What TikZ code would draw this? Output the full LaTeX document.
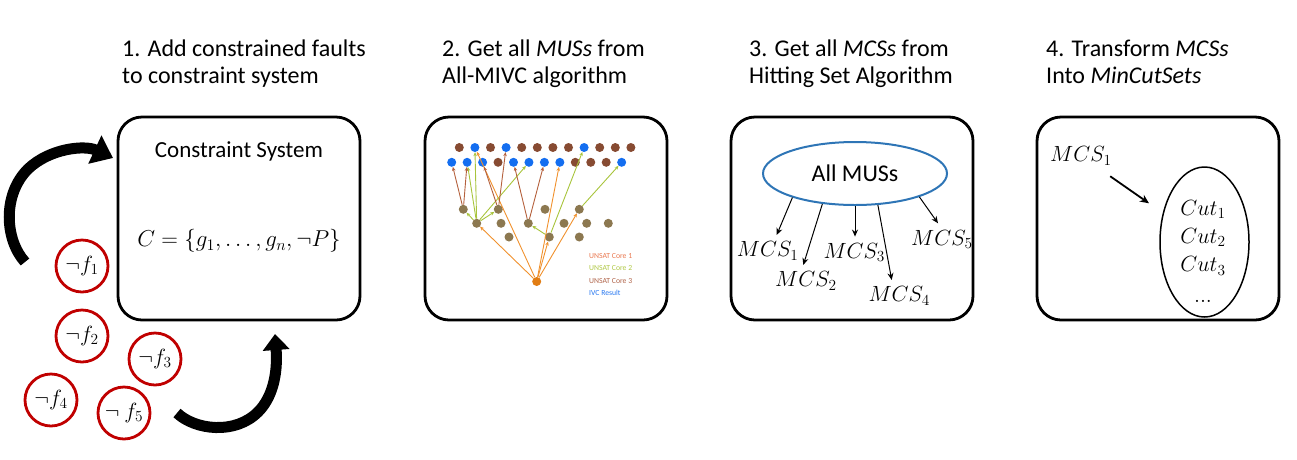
\RequirePackage{fix-cm}
\documentclass[tikz,border=0pt]{standalone}
\usepackage[no-math]{fontspec}
\setmainfont{Carlito}
\usetikzlibrary{arrows.meta,shapes.geometric,calc}
\definecolor{fred}{RGB}{192,0,0}
\definecolor{musblue}{RGB}{46,117,182}
\definecolor{dotblue}{RGB}{20,110,240}
\definecolor{dotbrown}{RGB}{135,75,50}
\definecolor{dottan}{RGB}{140,120,80}
\definecolor{rootor}{RGB}{225,125,20}
\definecolor{coreone}{RGB}{240,145,45}
\definecolor{coretwo}{RGB}{168,196,60}
\definecolor{corethree}{RGB}{180,96,60}
\definecolor{legone}{RGB}{233,120,80}
\definecolor{legtwo}{RGB}{176,200,70}
\definecolor{legthree}{RGB}{176,100,74}
\definecolor{legfour}{RGB}{40,120,240}
\begin{document}
\begin{tikzpicture}[x=1pt,y=-1pt,
  panel/.style={draw,line width=2.8pt,rounded corners=24pt,minimum width=242pt,minimum height=203pt,inner sep=0pt},
  title/.style={anchor=base west,inner sep=0pt,font=\fontsize{24}{29}\selectfont},
  txt/.style={inner sep=0pt,font=\fontsize{23}{28}\selectfont},
  fault/.style={circle,draw=fred,line width=2.8pt,minimum size=52pt,inner sep=0pt,font=\fontsize{22}{22}\selectfont},
  dot/.style={circle,minimum size=9pt,inner sep=0pt},
  eone/.style={draw=coreone,line width=0.9pt,-{Stealth[length=4pt,width=3.5pt]}},
  etwo/.style={draw=coretwo,line width=0.9pt,-{Stealth[length=4pt,width=3.5pt]}},
  ethree/.style={draw=corethree,line width=0.9pt,-{Stealth[length=4pt,width=3.5pt]}},
  leg/.style={anchor=base west,inner sep=0pt,font=\fontsize{7.7}{8}\selectfont},
  lab/.style={anchor=base west,inner sep=0pt,font=\fontsize{22}{22}\selectfont},
  cutlab/.style={anchor=base,inner sep=0pt,font=\fontsize{22}{22}\selectfont},
  thinarrow/.style={draw,line width=1pt,-{Stealth[length=7pt,width=6pt]}},
  bigarrow/.style={draw,line width=11pt,-{Triangle[length=20pt,width=30pt]}},
  bigarrowb/.style={draw,line width=11pt,-{Triangle[length=16pt,width=26pt]}}
]
\useasboundingbox (0,0) rectangle (1297,459);

% panels
\node[panel] (box1) at (239,218.5) {};
\node[panel] (box2) at (546,218.5) {};
\node[panel] (box3) at (852,218.5) {};
\node[panel] (box4) at (1158,218.5) {};

% titles
\node[title] (t1a) at (122,56) {1. Add constrained faults};
\node[title] (t1b) at (122,83) {to constraint system};
\node[title] (t2a) at (442,56) {2. Get all \textit{MUSs} from};
\node[title] (t2b) at (442,83) {All-MIVC algorithm};
\node[title] (t3a) at (749,56) {3. Get all \textit{MCSs} from};
\node[title] (t3b) at (749,83) {Hitting Set Algorithm};
\node[title] (t4a) at (1046,56) {4. Transform \textit{MCSs}};
\node[title] (t4b) at (1046,83) {Into \textit{MinCutSets}};

% panel 1
\node[txt] (cs) at (239,151) {Constraint System};
\node[inner sep=0pt,font=\fontsize{23}{23}\selectfont] (form) at (239,241) {$C=\{g_1,\ldots,g_n,\neg P\}$};

\node[fault] (f1) at (82,266) {$\neg f_1$};
\node[fault] (f2) at (82,336) {$\neg f_2$};
\node[fault] (f3) at (155,359) {$\neg f_3$};
\node[fault] (f4) at (51,400) {$\neg f_4$};
\node[fault] (f5) at (124,413) {$\neg\ f_5$};

\draw[bigarrow] (25,262) .. controls (5,240) and (2,195) .. (28,169) .. controls (50,148) and (85,145) .. (113,158);
\draw[bigarrowb] (177,413) .. controls (195,430) and (235,435) .. (258,412) .. controls (272,398) and (278,375) .. (275,334);

% panel 2
\foreach \i/\c in {1/dotbrown,2/dotblue,3/dotbrown,4/dotblue,5/dotbrown,6/dotbrown,7/dotbrown,8/dotbrown,9/dotblue,10/dotbrown,11/dotbrown,12/dotbrown}
  \node[dot,fill=\c] (u\i) at ({459.3+15.6*(\i-1)},147.5) {};
\foreach \i/\c in {1/dotblue,2/dotblue,3/dotblue,4/dotbrown,5/dotblue,6/dotblue,7/dotblue,8/dotblue,9/dotbrown,10/dotbrown,11/dotbrown,12/dotblue}
  \node[dot,fill=\c] (v\i) at ({451.7+15.45*(\i-1)},162.3) {};
\node[dot,fill=dottan] (a1) at (463.3,209.3) {};
\node[dot,fill=dottan] (a2) at (498.3,209.3) {};
\node[dot,fill=dottan] (a3) at (545,209.3) {};
\node[dot,fill=dottan] (a4) at (579.3,209.3) {};
\node[dot,fill=dottan] (b1) at (476.7,223.3) {};
\node[dot,fill=dottan] (b2) at (501,223.3) {};
\node[dot,fill=dottan] (b3) at (528.3,223.3) {};
\node[dot,fill=dottan] (b4) at (564,223.3) {};
\node[dot,fill=dottan] (b5) at (586.7,223.3) {};
\node[dot,fill=dottan] (b6) at (608.3,223.3) {};
\node[dot,fill=dottan] (c1) at (509,237) {};
\node[dot,fill=dottan] (c2) at (549.3,237) {};
\node[dot,fill=dottan] (c3) at (579.3,237) {};
\node[dot,fill=rootor] (root) at (536.7,281.5) {};

\draw[eone] (root) -- (b1);
\draw[eone] (root) -- (u2);
\draw[eone] (root) -- (c2);
\draw[eone] (root) -- (v8);
\draw[eone] (root) -- (a4);
\draw[etwo] (b1) -- (a1);
\draw[etwo] (b1) -- (u2);
\draw[etwo] (b1) -- (v2);
\draw[etwo] (b1) -- (a2);
\draw[etwo] (b1) -- (v6);
\draw[etwo] (c2) -- (b3);
\draw[etwo] (c2) -- (u9);
\draw[etwo] (a4) -- (v12);
\draw[ethree] (a1) -- (v1);
\draw[ethree] (a1) -- (v2);
\draw[ethree] (a2) -- (u4);
\draw[ethree] (a2) -- (v3);
\draw[ethree] (b3) -- (v5);
\draw[ethree] (b3) -- (v7);

\node[leg,text=legone] (l1) at (589,258) {UNSAT Core 1};
\node[leg,text=legtwo] (l2) at (589,270.8) {UNSAT Core 2};
\node[leg,text=legthree] (l3) at (589,283.5) {UNSAT Core 3};
\node[leg,text=legfour] (l4) at (589,295.8) {IVC Result};

% panel 3
\node[ellipse,draw=musblue,line width=2pt,minimum width=184pt,minimum height=63pt,inner sep=0pt,font=\fontsize{24}{24}\selectfont] (mus) at (855,173.5) {All MUSs};
\node[lab] (m1) at (736.7,256.7) {$MCS_1$};
\node[lab] (m2) at (775,286.7) {$MCS_2$};
\node[lab] (m3) at (823.3,258.3) {$MCS_3$};
\node[lab] (m4) at (868.3,301.7) {$MCS_4$};
\node[lab] (m5) at (911,245) {$MCS_5$};
\draw[thinarrow] (mus.201) -- ($(m1.north west)+(40,-6.5)$);
\draw[thinarrow] (mus.223) -- ($(m2.north west)+(28.3,-6.5)$);
\draw[thinarrow] (mus.270) -- ($(m3.north west)+(31.7,-6.5)$);
\draw[thinarrow] (mus.306) -- ($(m4.north west)+(23.4,-6.5)$);
\draw[thinarrow] (mus.340) -- ($(m5.north west)+(27,-6.5)$);

% panel 4
\node[lab] (k1) at (1050,161.7) {$MCS_1$};
\node[ellipse,draw,line width=1.5pt,minimum width=89pt,minimum height=150pt,inner sep=0pt] (cut) at (1204.5,242) {};
\node[cutlab] (cuta) at (1203,215) {$Cut_1$};
\node[cutlab] (cutb) at (1203,243.3) {$Cut_2$};
\node[cutlab] (cutc) at (1203,271.7) {$Cut_3$};
\node[cutlab] (cutd) at (1203,302) {$...$};
\draw[draw,line width=1.8pt,-{Stealth[length=9pt,width=8pt]},shorten <=35.7pt,shorten >=67.7pt] (k1.center) -- (cut.center);
\end{tikzpicture}
\end{document}
